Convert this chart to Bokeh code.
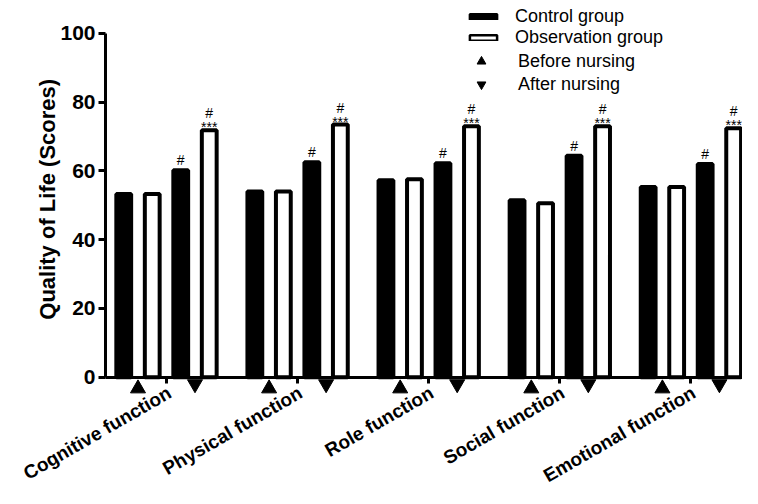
import math
import numpy as np
from bokeh.plotting import figure
from bokeh.models import FixedTicker, Legend, LegendItem, Range1d
from bokeh.core.properties import value
from bokeh.embed import file_html
from bokeh.resources import INLINE

# ---- data ----
categories = ["Cognitive function", "Physical function", "Role function",
              "Social function", "Emotional function"]
control_before = [53.3, 54.0, 57.3, 51.5, 55.3]
observation_before = [53.3, 54.0, 57.6, 50.6, 55.3]
control_after = [60.2, 62.5, 62.2, 64.4, 62.0]
observation_after = [71.8, 73.5, 73.0, 73.0, 72.4]
control_after_marks = ["#", "#", "#", "#", "#"]
observation_after_hash = ["#", "#", "#", "#", "#"]
observation_after_stars = ["***", "***", "***", "***", "***"]
y_ticks = [0, 20, 40, 60, 80, 100]
y_label = "Quality of Life (Scores)"

# ---- layout constants (style) ----
PITCH = 23      # x units per category
SLOT = 5        # x units per bar slot
BAR_W = 2.6
Y_AXIS_X = -10.7
X_START, X_END = -29.12, 101.05
Y_START, Y_END = -32.38, 109.58
TRI_UP_Y = -3.3
TRI_DN_Y = -2.0
FONT = "Liberation Sans"

centers = [i * PITCH for i in range(len(categories))]
x_cb = [c - 1.5 * SLOT for c in centers]
x_ob = [c - 0.5 * SLOT for c in centers]
x_ca = [c + 0.5 * SLOT for c in centers]
x_oa = [c + 1.5 * SLOT for c in centers]

p = figure(width=742, height=488,
           x_range=Range1d(X_START, X_END), y_range=Range1d(Y_START, Y_END),
           output_backend="svg", toolbar_location=None, title=None,
           min_border_left=0, min_border_right=0, min_border_top=0,
           min_border_bottom=0)
p.outline_line_color = None
p.grid.visible = False
p.background_fill_color = "white"

bar_kw = dict(width=BAR_W, bottom=0, line_color="black", line_width=4)
p.vbar(x=x_cb, top=control_before, fill_color="black", **bar_kw)
p.vbar(x=x_ob, top=observation_before, fill_color="white", **bar_kw)
p.vbar(x=x_ca, top=control_after, fill_color="black", **bar_kw)
p.vbar(x=x_oa, top=observation_after, fill_color="white", **bar_kw)

# legend-only proxies (no visible data)
nan = np.array([np.nan])
r_leg_ctrl = p.vbar(x=nan, top=nan, width=1, fill_color="black",
                    line_color="black", line_width=2.5)
r_leg_obs = p.vbar(x=nan, top=nan, width=1, fill_color="white",
                   line_color="black", line_width=2.5)

r_before = p.scatter(x=[c - SLOT for c in centers], y=[TRI_UP_Y] * len(centers),
                     marker="triangle", size=15, fill_color="black", line_color="black")
r_after = p.scatter(x=[c + SLOT for c in centers], y=[TRI_DN_Y] * len(centers),
                    marker="inverted_triangle", size=15, fill_color="black", line_color="black")

txt_kw = dict(text_font=value(FONT), text_font_size="14px", text_align="center",
              text_baseline="alphabetic", text_color="black")
p.text(x=x_ca, y=control_after, text=control_after_marks, y_offset=-10, **txt_kw)
p.text(x=x_oa, y=observation_after, text=observation_after_stars, y_offset=-3, **txt_kw)
p.text(x=x_oa, y=observation_after, text=observation_after_hash, y_offset=-17, **txt_kw)

# category labels (rotated)
p.text(x=centers, y=[0] * len(centers), text=categories, angle=math.pi / 6,
       text_align="right", text_baseline="middle", x_offset=3, y_offset=14,
       text_font=value(FONT), text_font_size="19px", text_font_style="bold",
       text_color="black")

# y axis title
p.text(x=[Y_AXIS_X], y=[50], text=[y_label], angle=math.pi / 2,
       text_align="center", text_baseline="middle", x_offset=-58, y_offset=-6,
       text_font=value(FONT), text_font_size="22px", text_font_style="bold",
       text_color="black")

# y axis
yax = p.yaxis[0]
yax.ticker = FixedTicker(ticks=y_ticks)
yax.fixed_location = Y_AXIS_X
yax.bounds = (0, 100)
yax.major_label_text_font = FONT
yax.major_label_text_font_size = "21px"
yax.major_label_text_font_style = "bold"
yax.major_label_text_color = "black"
yax.major_label_standoff = 3
yax.axis_line_width = 3
yax.axis_line_color = "black"
yax.major_tick_line_width = 3
yax.major_tick_line_color = "black"
yax.major_tick_out = 7
yax.major_tick_in = 0
yax.minor_tick_out = 0
yax.minor_tick_in = 0

# x axis (line and ticks at y = 0)
xax = p.xaxis[0]
xax.ticker = FixedTicker(ticks=centers)
xax.fixed_location = 0
xax.bounds = (Y_AXIS_X, X_END)
xax.major_label_text_font_size = "0px"
xax.major_label_text_alpha = 0
xax.axis_line_width = 3
xax.axis_line_color = "black"
xax.major_tick_line_width = 3
xax.major_tick_line_color = "black"
xax.major_tick_out = 6
xax.major_tick_in = 0
xax.minor_tick_out = 0
xax.minor_tick_in = 0

leg_common = dict(padding=0, margin=0, border_line_color=None,
                  background_fill_alpha=0, label_text_font=FONT,
                  label_text_font_size="18px", label_text_color="black")
leg1 = Legend(items=[LegendItem(label="Control group", renderers=[r_leg_ctrl]),
                     LegendItem(label="Observation group", renderers=[r_leg_obs])],
              location=(466, 440), glyph_width=34, glyph_height=7, spacing=0,
              label_standoff=15, label_height=19, **leg_common)
leg2 = Legend(items=[LegendItem(label="Before nursing", renderers=[r_before]),
                     LegendItem(label="After nursing", renderers=[r_after])],
              location=(470, 393), glyph_width=22, glyph_height=22, spacing=1,
              label_standoff=26, label_height=19, **leg_common)
p.add_layout(leg1)
p.add_layout(leg2)

open("out.html", "w").write(file_html(p, INLINE))
